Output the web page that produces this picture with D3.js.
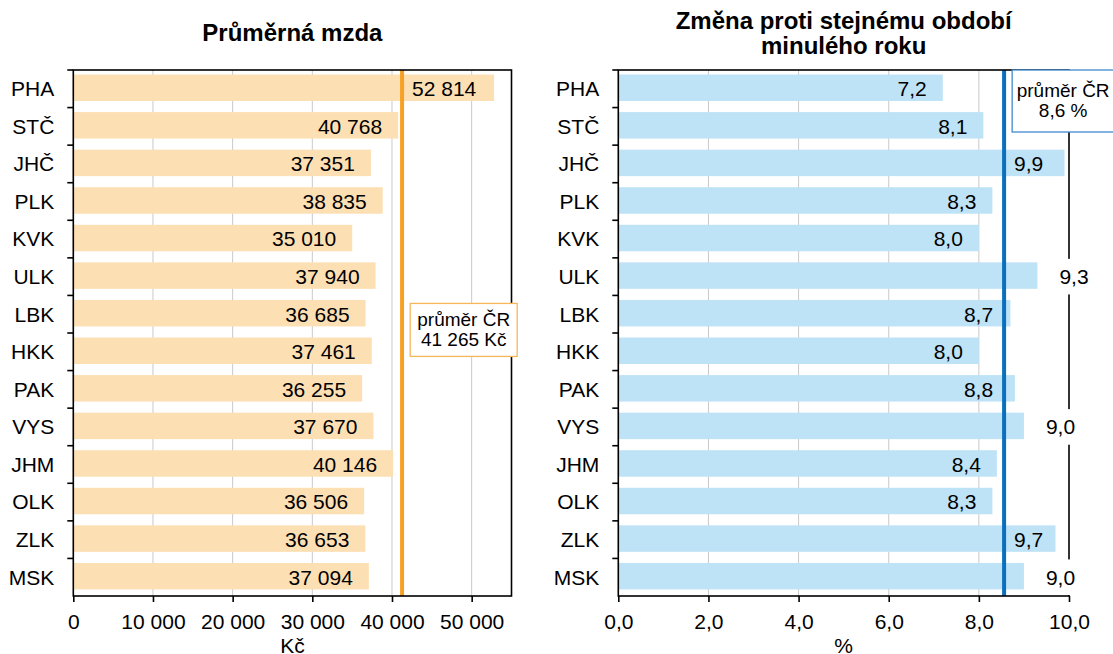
<!DOCTYPE html>
<html>
<head>
<meta charset="utf-8">
<script src="https://cdn.jsdelivr.net/npm/d3@7"></script>
<style>
  body { margin: 0; background: #fff; }
  text { font-family: "Liberation Sans", Arial, sans-serif; fill: #000; }
</style>
</head>
<body>
<svg id="chart" width="1113" height="654"></svg>
<script>
const regions = ["PHA", "STČ", "JHČ", "PLK", "KVK", "ULK", "LBK", "HKK", "PAK", "VYS", "JHM", "OLK", "ZLK", "MSK"];
const wages = [52814, 40768, 37351, 38835, 35010, 37940, 36685, 37461, 36255, 37670, 40146, 36506, 36653, 37094];
const changes = [7.2, 8.1, 9.9, 8.3, 8.0, 9.3, 8.7, 8.0, 8.8, 9.0, 8.4, 8.3, 9.7, 9.0];
const avgWage = 41265;
const avgChange = 8.56; // line sits a little left of 8,6 in the picture
const wageTicks = [0, 10000, 20000, 30000, 40000, 50000];
const changeTicks = [0, 2, 4, 6, 8, 10];

const cz = d3.formatLocale({ decimal: ",", thousands: " ", grouping: [3], currency: ["", " Kč"] });
const fmtInt = cz.format(",d");
const fmtDec = cz.format(".1f");

const svg = d3.select("#chart");

function panel(cfg) {
  const x = d3.scaleLinear().domain(cfg.domain).range([cfg.left, cfg.right]);
  const y = d3.scaleBand().domain(regions).range([cfg.top, cfg.bottom]);
  const g = svg.append("g");
  const bw = y.bandwidth();

  // grid
  g.selectAll(".grid")
    .data(cfg.ticks.filter(t => t > cfg.domain[0] && t < cfg.domain[1]))
    .join("line")
    .attr("x1", d => x(d)).attr("x2", d => x(d))
    .attr("y1", cfg.top).attr("y2", cfg.bottom)
    .attr("stroke", "#c9c9c9").attr("stroke-width", 1);

  // bars
  g.selectAll(".bar")
    .data(cfg.values)
    .join("rect")
    .attr("x", x(0))
    .attr("y", (d, i) => y(regions[i]) + bw * 0.12)
    .attr("width", d => x(d) - x(0))
    .attr("height", bw * 0.705)
    .attr("fill", cfg.barColor);

  // average line
  g.append("line")
    .attr("x1", x(cfg.avg)).attr("x2", x(cfg.avg))
    .attr("y1", cfg.top).attr("y2", cfg.bottom)
    .attr("stroke", cfg.lineColor).attr("stroke-width", 4);

  // frame
  g.append("rect")
    .attr("x", cfg.left).attr("y", cfg.top)
    .attr("width", cfg.right - cfg.left).attr("height", cfg.bottom - cfg.top)
    .attr("fill", "none").attr("stroke", "#000").attr("stroke-width", 1.6);

  // left ticks at category boundaries
  g.selectAll(".ytick")
    .data(regions)
    .join("line")
    .attr("x1", cfg.left - 6).attr("x2", cfg.left)
    .attr("y1", d => y(d)).attr("y2", d => y(d))
    .attr("stroke", "#000").attr("stroke-width", 1.6);

  // category labels
  g.selectAll(".cat")
    .data(regions)
    .join("text")
    .attr("x", cfg.left - 19)
    .attr("y", d => y(d) + bw / 2)
    .attr("dy", "0.35em")
    .attr("text-anchor", "end")
    .style("font-size", "21px")
    .text(d => d);

  // bottom axis
  const axis = g.append("g")
    .attr("transform", `translate(0,${cfg.bottom})`)
    .call(d3.axisBottom(x).tickValues(cfg.ticks).tickSize(6).tickFormat(cfg.tickFormat));
  axis.select(".domain").remove();
  axis.selectAll(".tick line").attr("stroke", "#000").attr("stroke-width", 1.6);
  axis.selectAll(".tick text")
    .attr("y", 33).attr("dy", 0)
    .style("font-size", "21px").style("font-family", "Liberation Sans, Arial, sans-serif")
    .attr("fill", "#000");

  g.append("text")
    .attr("x", (cfg.left + cfg.right) / 2).attr("y", 653)
    .attr("text-anchor", "middle")
    .style("font-size", "21px")
    .text(cfg.unit);

  // value labels
  const avgX = x(cfg.avg);
  cfg.values.forEach((v, i) => {
    const cy = y(regions[i]) + bw / 2;
    const t = g.append("text")
      .attr("y", cy).attr("dy", "0.35em")
      .style("font-size", "21px")
      .text(cfg.valueFormat(v));
    const w = t.node().getComputedTextLength();
    const end = x(v);
    if (v <= cfg.avg) {
      t.attr("x", end - 16).attr("text-anchor", "end");
    } else {
      const over = end - avgX;
      if (over >= w + 20) {
        t.attr("x", avgX + 10).attr("text-anchor", "start");
      } else if (over < 15) {
        t.attr("x", avgX - 11).attr("text-anchor", "end");
      } else {
        const sx = end + 22;
        g.insert("rect", () => t.node())
          .attr("x", sx - 8).attr("y", y(regions[i]) + 1)
          .attr("width", w + 16).attr("height", bw - 2)
          .attr("fill", "#fff");
        t.attr("x", sx).attr("text-anchor", "start");
      }
    }
  });

  // average box
  const bx = x(cfg.boxAt[0]), by = cfg.boxAt[1](y);
  g.append("rect")
    .attr("x", bx - cfg.boxW / 2).attr("y", by)
    .attr("width", cfg.boxW).attr("height", cfg.boxH)
    .attr("fill", "#fff").attr("stroke", cfg.boxColor).attr("stroke-width", 1.3);
  g.append("text")
    .attr("x", bx).attr("y", by + cfg.boxH / 2 - 4)
    .attr("text-anchor", "middle").style("font-size", "19px")
    .text("průměr ČR");
  g.append("text")
    .attr("x", bx).attr("y", by + cfg.boxH / 2 + 16)
    .attr("text-anchor", "middle").style("font-size", "19px")
    .text(cfg.avgText);

  // title
  cfg.title.forEach((line, k) => {
    g.append("text")
      .attr("x", (cfg.left + cfg.right) / 2)
      .attr("y", cfg.titleY + k * 25)
      .attr("text-anchor", "middle")
      .style("font-size", "24px").style("font-weight", "bold")
      .text(line);
  });
}

panel({
  values: wages, avg: avgWage, domain: [0, 55000], ticks: wageTicks,
  left: 73.3, right: 511.5, top: 70, bottom: 596,
  barColor: "#fddfb4", lineColor: "#f6a126", boxColor: "#f7b65a",
  tickFormat: fmtInt, valueFormat: fmtInt, unit: "Kč",
  avgText: fmtInt(avgWage) + " Kč",
  boxAt: [49000, y => y("LBK") + 8], boxW: 107, boxH: 53,
  title: ["Průměrná mzda"], titleY: 41
});

panel({
  values: changes, avg: avgChange, domain: [0, 10], ticks: changeTicks,
  left: 618.3, right: 1069, top: 70, bottom: 596,
  barColor: "#bfe3f6", lineColor: "#0a70be", boxColor: "#3f8bd0",
  tickFormat: fmtDec, valueFormat: fmtDec, unit: "%",
  avgText: avgChange.toFixed(1).replace(".", ",") + " %",
  boxAt: [9.87, y => y("PHA")], boxW: 102, boxH: 62,
  title: ["Změna proti stejnému období", "minulého roku"], titleY: 28.5
});
</script>
</body>
</html>
